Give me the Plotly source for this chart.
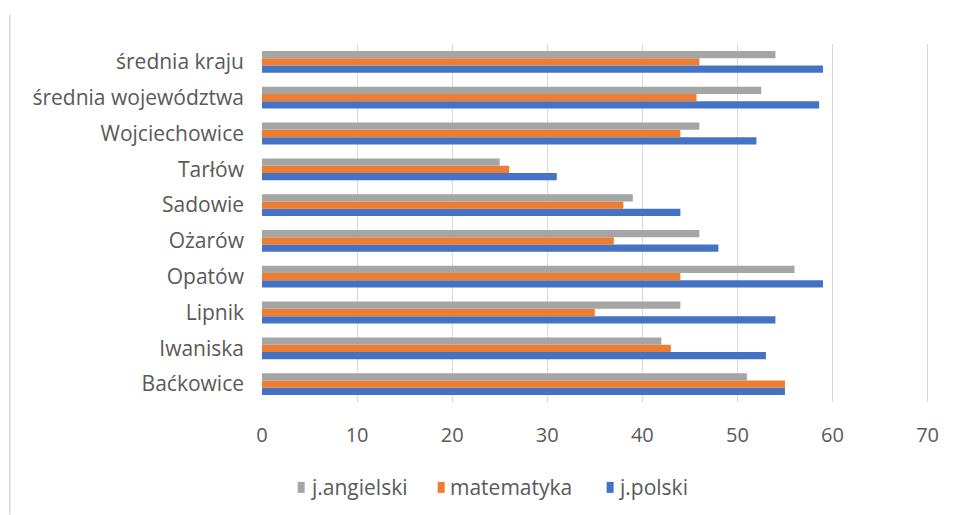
import plotly.graph_objects as go

categories = ["Baćkowice", "Iwaniska", "Lipnik", "Opatów", "Ożarów",
              "Sadowie", "Tarłów", "Wojciechowice", "średnia województwa", "średnia kraju"]
j_polski = [55, 53, 54, 59, 48, 44, 31, 52, 58.6, 59]
matematyka = [55, 43, 35, 44, 37, 38, 26, 44, 45.7, 46]
j_angielski = [51, 42, 44, 56, 46, 39, 25, 46, 52.5, 54]
x_ticks = [0, 10, 20, 30, 40, 50, 60, 70]

series = [("j.angielski", "#A5A5A5", j_angielski),
          ("matematyka", "#ED7D31", matematyka),
          ("j.polski", "#4472C4", j_polski)]

# page is shown with an 8px body margin -> figure coords = page coords - 8
W, H = 948, 507
XMAX = 70.15
L, T, B = 254.3, 35.5, 394.0
R = L + (920.0 - L) * XMAX / 70
pw, ph = R - L, B - T

TXT = "#595959"
FONT = "Open Sans"

def px(x):
    return (x - L) / pw

def py(y):
    return (B - y) / ph

fig = go.Figure()
for name, color, vals in reversed(series):
    fig.add_trace(go.Bar(y=categories, x=vals, orientation="h", name=name,
                         marker=dict(color=color, line=dict(width=0)),
                         showlegend=False))

fig.update_layout(
    width=W, height=H,
    margin=dict(l=L, r=W - R, t=T, b=H - B, pad=0),
    paper_bgcolor="white", plot_bgcolor="white",
    barmode="group", bargap=0.39, bargroupgap=0,
    font=dict(family=FONT, color=TXT, size=20),
    showlegend=False,
    xaxis=dict(range=[0, XMAX], tickvals=x_ticks, showgrid=True, gridcolor="#D9D9D9",
               gridwidth=1, zeroline=False, showline=False, ticks="",
               ticklabelstandoff=19, tickfont=dict(size=20, color=TXT), fixedrange=True),
    yaxis=dict(type="category", showgrid=False, zeroline=False, showline=False,
               ticks="", ticklabelstandoff=17, tickfont=dict(size=21, color=TXT),
               fixedrange=True),
)

# chart frame left edge
fig.add_shape(type="line", xref="paper", yref="paper",
              x0=px(2), x1=px(2), y0=py(6), y1=py(507),
              line=dict(color="#D9D9D9", width=1.5))

# legend (Excel style: small square + label)
legend_pos = [(290, 300), (430, 440), (599, 608)]
for (name, color, _), (sx, tx) in zip(series, legend_pos):
    fig.add_shape(type="rect", xref="paper", yref="paper",
                  x0=px(sx), x1=px(sx + 7), y0=py(485), y1=py(474),
                  fillcolor=color, line=dict(width=0))
    fig.add_annotation(xref="paper", yref="paper", x=px(tx), y=py(479.5),
                       xanchor="left", yanchor="middle", text=name, showarrow=False,
                       font=dict(family=FONT, size=21, color=TXT))

fig.write_html("out.html")
